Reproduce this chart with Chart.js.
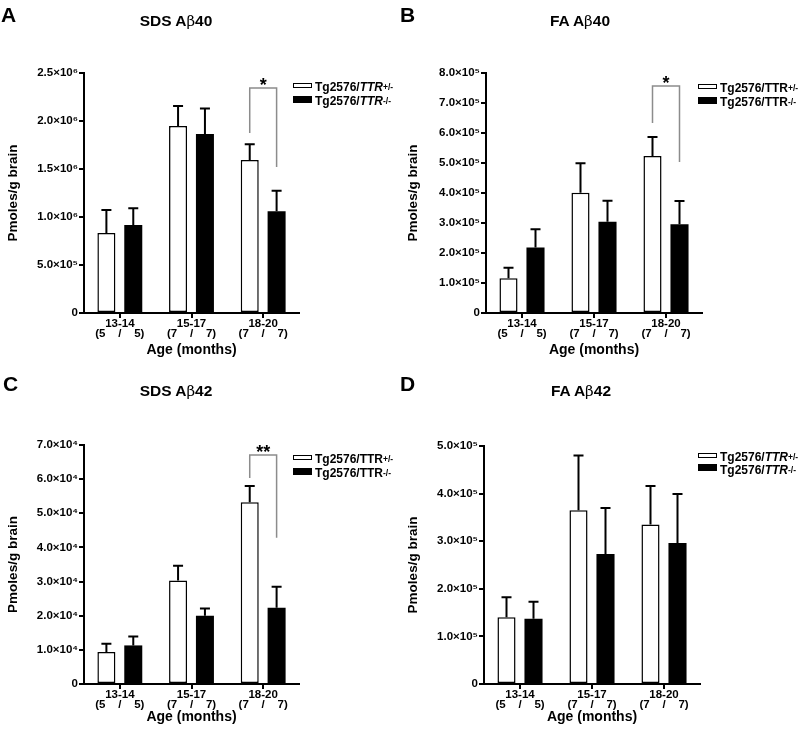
<!DOCTYPE html>
<html><head><meta charset="utf-8">
<script src="https://cdn.jsdelivr.net/npm/chart.js@4"></script>
<style>
body{margin:0;background:#fff;width:800px;height:733px;position:relative;overflow:hidden;font-family:"Liberation Sans",Arial,sans-serif;color:#000;}
canvas{position:absolute;}
.letter{position:absolute;font-weight:bold;font-size:21px;line-height:21px;}
.title{position:absolute;font-weight:bold;font-size:15.5px;line-height:16px;transform:translateX(-50%);white-space:nowrap;}
.beta{font-weight:normal;font-family:"DejaVu Serif",serif;font-size:15px;}
.legend{position:absolute;font-weight:bold;font-size:12px;}
.row{height:14px;line-height:14px;white-space:nowrap;display:flex;align-items:center;}
.sw{display:inline-block;width:19px;height:6px;box-sizing:border-box;margin-right:3px;position:relative;top:-2px;}
.sw.w{border:1.5px solid #000;background:#fff;height:5px;}
.sw.b{background:#000;height:7px;}
sup{font-size:8.5px;vertical-align:4px;line-height:0;}
</style>
</head><body>
<canvas id="cA" width="400" height="366" style="left:0;top:0"></canvas>
<canvas id="cB" width="400" height="366" style="left:400px;top:0"></canvas>
<canvas id="cC" width="400" height="367" style="left:0;top:366px"></canvas>
<canvas id="cD" width="400" height="367" style="left:400px;top:366px"></canvas>

<div class="letter" style="left:1px;top:4px">A</div>
<div class="letter" style="left:400px;top:4px">B</div>
<div class="letter" style="left:3px;top:373px">C</div>
<div class="letter" style="left:400px;top:373px">D</div>

<div class="title" style="left:176px;top:13px">SDS A<span class="beta">β</span>40</div>
<div class="title" style="left:580px;top:13px">FA A<span class="beta">β</span>40</div>
<div class="title" style="left:176px;top:383px">SDS A<span class="beta">β</span>42</div>
<div class="title" style="left:581px;top:383px">FA A<span class="beta">β</span>42</div>

<div class="legend" style="left:293px;top:80px">
  <div class="row"><span class="sw w"></span>Tg2576/<i>TTR</i><sup>+/-</sup></div>
  <div class="row"><span class="sw b"></span>Tg2576/<i>TTR</i><sup>-/-</sup></div>
</div>
<div class="legend" style="left:698px;top:81px">
  <div class="row"><span class="sw w"></span>Tg2576/TTR<sup>+/-</sup></div>
  <div class="row"><span class="sw b"></span>Tg2576/TTR<sup>-/-</sup></div>
</div>
<div class="legend" style="left:293px;top:452px">
  <div class="row"><span class="sw w"></span>Tg2576/TTR<sup>+/-</sup></div>
  <div class="row"><span class="sw b"></span>Tg2576/TTR<sup>-/-</sup></div>
</div>
<div class="legend" style="left:698px;top:451px">
  <div class="row" style="height:12.5px"><span class="sw w"></span>Tg2576/<i>TTR</i><sup>+/-</sup></div>
  <div class="row" style="height:12.5px"><span class="sw b"></span>Tg2576/<i>TTR</i><sup>-/-</sup></div>
</div>

<script>
// ---- categories ----
const ages = ['13-14', '15-17', '18-20'];
const groupSizes = ['(5    /    5)', '(7    /    7)', '(7    /    7)'];
const seriesNames = ['Tg2576/TTR+/-', 'Tg2576/TTR-/-'];

// ---- A: SDS Abeta40 ----
const sdsAb40Het = [8.33e5, 1.948e6, 1.594e6];
const sdsAb40HetSem = [2.40e5, 2.08e5, 1.63e5];
const sdsAb40Ko = [9.17e5, 1.865e6, 1.059e6];
const sdsAb40KoSem = [1.73e5, 2.65e5, 2.15e5];
const sdsAb40Ticks = ['0', '5.0×10⁵', '1.0×10⁶', '1.5×10⁶', '2.0×10⁶', '2.5×10⁶'];

// ---- B: FA Abeta40 ----
const faAb40Het = [1.16e5, 4.01e5, 5.23e5];
const faAb40HetSem = [0.35e5, 0.98e5, 0.64e5];
const faAb40Ko = [2.18e5, 3.04e5, 2.96e5];
const faAb40KoSem = [0.61e5, 0.70e5, 0.77e5];
const faAb40Ticks = ['0', '1.0×10⁵', '2.0×10⁵', '3.0×10⁵', '4.0×10⁵', '5.0×10⁵', '6.0×10⁵', '7.0×10⁵', '8.0×10⁵'];

// ---- C: SDS Abeta42 ----
const sdsAb42Het = [0.94e4, 3.03e4, 5.32e4];
const sdsAb42HetSem = [0.24e4, 0.43e4, 0.48e4];
const sdsAb42Ko = [1.13e4, 2.00e4, 2.23e4];
const sdsAb42KoSem = [0.26e4, 0.21e4, 0.62e4];
const sdsAb42Ticks = ['0', '1.0×10⁴', '2.0×10⁴', '3.0×10⁴', '4.0×10⁴', '5.0×10⁴', '6.0×10⁴', '7.0×10⁴'];

// ---- D: FA Abeta42 ----
const faAb42Het = [1.40e5, 3.65e5, 3.35e5];
const faAb42HetSem = [0.42e5, 1.15e5, 0.81e5];
const faAb42Ko = [1.37e5, 2.73e5, 2.96e5];
const faAb42KoSem = [0.36e5, 0.97e5, 1.03e5];
const faAb42Ticks = ['0', '1.0×10⁵', '2.0×10⁵', '3.0×10⁵', '4.0×10⁵', '5.0×10⁵'];

// ---- significance brackets (category index, top, left end, right end, label) ----
const sigA = {cat: 2, top: 2.344e6, left: 1.875e6, right: 1.52e6, label: '*'};
const sigB = {cat: 2, top: 7.57e5, left: 6.33e5, right: 5.03e5, label: '*'};
const sigC = {cat: 2, top: 6.71e4, left: 6.03e4, right: 4.28e4, label: '**'};

const FONT = '"Liberation Sans", Arial, sans-serif';

function makeErrPlugin(sems, sig) {
  return {
    id: 'errbars',
    afterDatasetsDraw(chart) {
      const ctx = chart.ctx, ys = chart.scales.y;
      ctx.save();
      chart.data.datasets.forEach((ds, i) => {
        const meta = chart.getDatasetMeta(i);
        meta.data.forEach((bar, j) => {
          const top = ys.getPixelForValue(ds.data[j] + sems[i][j]);
          ctx.strokeStyle = '#000';
          ctx.lineWidth = 2;
          ctx.beginPath();
          ctx.moveTo(bar.x, bar.y);
          ctx.lineTo(bar.x, top);
          ctx.moveTo(bar.x - 5, top);
          ctx.lineTo(bar.x + 5, top);
          ctx.stroke();
        });
      });
      if (sig) {
        const b0 = chart.getDatasetMeta(0).data[sig.cat];
        const b1 = chart.getDatasetMeta(1).data[sig.cat];
        const yt = ys.getPixelForValue(sig.top);
        const yl = ys.getPixelForValue(sig.left);
        const yr = ys.getPixelForValue(sig.right);
        ctx.strokeStyle = '#8c8c8c';
        ctx.lineWidth = 1.5;
        ctx.beginPath();
        ctx.moveTo(b0.x, yl);
        ctx.lineTo(b0.x, yt);
        ctx.lineTo(b1.x, yt);
        ctx.lineTo(b1.x, yr);
        ctx.stroke();
        ctx.fillStyle = '#000';
        ctx.font = 'bold 18px ' + FONT;
        ctx.textAlign = 'center';
        ctx.textBaseline = 'alphabetic';
        ctx.fillText(sig.label, (b0.x + b1.x) / 2, yt + 3);
      }
      ctx.restore();
    }
  };
}

function makeChart(id, p) {
  const H = document.getElementById(id).height;
  new Chart(document.getElementById(id), {
    type: 'bar',
    data: {
      labels: ages.map((a, i) => [a, groupSizes[i]]),
      datasets: [
        {label: seriesNames[0], data: p.het, backgroundColor: '#fff', borderColor: '#000', borderWidth: 1.5,
         borderSkipped: false, categoryPercentage: 0.75, barPercentage: 0.67},
        {label: seriesNames[1], data: p.ko, backgroundColor: '#000', borderColor: '#000', borderWidth: 0,
         borderSkipped: false, categoryPercentage: 0.75, barPercentage: 0.67}
      ]
    },
    options: {
      responsive: false,
      animation: false,
      devicePixelRatio: 1,
      layout: {padding: {left: 0, top: p.top, right: 400 - p.right, bottom: 0}},
      plugins: {legend: {display: false}, tooltip: {enabled: false}, title: {display: false}},
      scales: {
        x: {
          z: 1,
          offset: true,
          grid: {display: true, drawOnChartArea: false, drawTicks: true, tickLength: 5, color: '#000', lineWidth: 2, offset: false},
          border: {display: true, color: '#000', width: 2},
          ticks: {color: '#000', font: {family: FONT, size: 11.5, weight: 'bold', lineHeight: 0.85},
                  padding: p.tickPad, maxRotation: 0, autoSkip: false},
          title: {display: true, text: 'Age (months)', color: '#000',
                  font: {family: FONT, size: 14, weight: 'bold', lineHeight: 1.2}, padding: {top: 0, bottom: p.titleBottom}},
          afterFit(s) { s.height = H - p.bottom; }
        },
        y: {
          z: 1,
          min: 0, max: p.max,
          grid: {display: true, drawOnChartArea: false, drawTicks: true, tickLength: 5, color: '#000', lineWidth: 2},
          border: {display: true, color: '#000', width: 2},
          ticks: {stepSize: p.step, color: '#000', font: {family: FONT, size: 11.5, weight: 'bold'}, padding: 1,
                  callback: (v, i) => p.tickLabels[i]},
          title: {display: true, text: 'Pmoles/g brain', color: '#000',
                  font: {family: FONT, size: 13.5, weight: 'bold', lineHeight: 1.2}, padding: {top: 5, bottom: 0}},
          afterFit(s) { s.width = p.left; }
        }
      }
    },
    plugins: [makeErrPlugin([p.hetSem, p.koSem], p.sig)]
  });
}

makeChart('cA', {het: sdsAb40Het, ko: sdsAb40Ko, hetSem: sdsAb40HetSem, koSem: sdsAb40KoSem,
  tickLabels: sdsAb40Ticks, max: 2.5e6, step: 5e5, sig: sigA,
  left: 84, right: 299, top: 73, bottom: 313, tickPad: 1, titleBottom: 7});
makeChart('cB', {het: faAb40Het, ko: faAb40Ko, hetSem: faAb40HetSem, koSem: faAb40KoSem,
  tickLabels: faAb40Ticks, max: 8e5, step: 1e5, sig: sigB,
  left: 86, right: 302, top: 73, bottom: 313, tickPad: 1, titleBottom: 7});
makeChart('cC', {het: sdsAb42Het, ko: sdsAb42Ko, hetSem: sdsAb42HetSem, koSem: sdsAb42KoSem,
  tickLabels: sdsAb42Ticks, max: 7e4, step: 1e4, sig: sigC,
  left: 84, right: 299, top: 79, bottom: 318, tickPad: 1, titleBottom: 7});
makeChart('cD', {het: faAb42Het, ko: faAb42Ko, hetSem: faAb42HetSem, koSem: faAb42KoSem,
  tickLabels: faAb42Ticks, max: 5e5, step: 1e5, sig: null,
  left: 84, right: 300, top: 80, bottom: 318, tickPad: 1, titleBottom: 7});
</script>
</body></html>
